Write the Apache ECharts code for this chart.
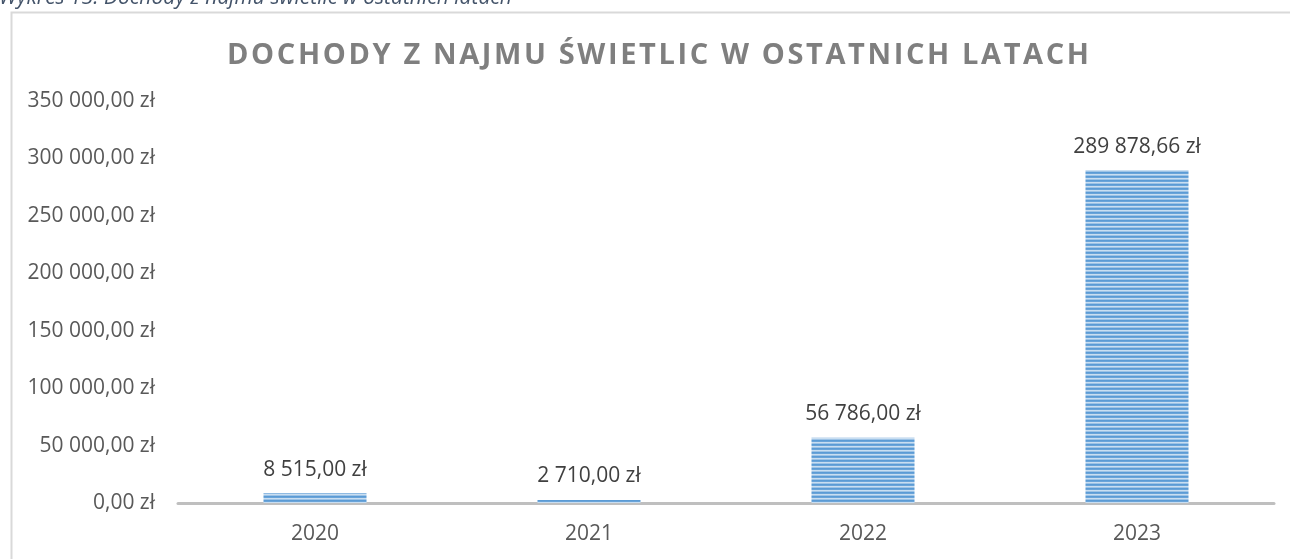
<!DOCTYPE html>
<html><head><meta charset="utf-8">
<script src="https://cdn.jsdelivr.net/npm/echarts@6/dist/echarts.min.js"></script>
<style>html,body{margin:0;padding:0;background:#fff;}#c{width:1290px;height:559px;}</style>
</head><body><div id="c"></div>
<script>
const caption = 'Wykres 13. Dochody z najmu świetlic w ostatnich latach';
const title = 'DOCHODY Z NAJMU ŚWIETLIC W OSTATNICH LATACH';
const categories = ['2020', '2021', '2022', '2023'];
const values = [8515.00, 2710.00, 56786.00, 289878.66];
const yTicks = [0, 50000, 100000, 150000, 200000, 250000, 300000, 350000];

function fmtPLN(v) {
  const parts = v.toFixed(2).split('.');
  const int = parts[0].replace(/\B(?=(\d{3})+(?!\d))/g, ' ');
  return int + ',' + parts[1] + ' zł';
}

// letter spacing for the title
const TITLE_WIDTH = 862;
const origFill = CanvasRenderingContext2D.prototype.fillText;
CanvasRenderingContext2D.prototype.fillText = function (t, x, y, w) {
  if (t === title && 'letterSpacing' in this) {
    const prev = this.letterSpacing;
    this.letterSpacing = '0px';
    const base = this.measureText(t).width;
    const sp = (TITLE_WIDTH - base) / (t.length - 1);
    this.letterSpacing = sp + 'px';
    const dx = (this.textAlign === 'center') ? sp / 2 : 0;
    origFill.call(this, t, x + dx, y);
    this.letterSpacing = prev;
    return;
  }
  return origFill.apply(this, arguments);
};

// striped pattern
const pc = document.createElement('canvas');
pc.width = 4; pc.height = 4;
const px = pc.getContext('2d');
const rows = ['#5b9bd5', '#6aa4d9', '#c9def1', '#9dc3e6'];
rows.forEach((c, i) => { px.fillStyle = c; px.fillRect(0, i, 4, 1); });

const FONT = '"Open Sans", "Liberation Sans", sans-serif';
const chart = echarts.init(document.getElementById('c'), null, { renderer: 'canvas' });
chart.setOption({
  backgroundColor: '#ffffff',
  animation: false,
  title: {
    text: title, left: 653, top: 51, textAlign: 'center', textVerticalAlign: 'middle',
    textStyle: { fontFamily: FONT, fontWeight: 'bold', fontSize: 29, color: '#7f7f7f' }
  },
  graphic: [
    { type: 'rect', left: 9, top: 10, shape: { x: 0, y: 0, width: 1300, height: 560 },
      style: { fill: 'none', stroke: '#d9d9d9', lineWidth: 2 }, z: -1 },
    { type: 'text', left: -1, top: -12,
      style: { text: caption, fontFamily: FONT, fontStyle: 'italic', fontSize: 21, fill: '#44546a' } }
  ],
  grid: { left: 178, right: 16, top: 101, bottom: 56, containLabel: false },
  xAxis: {
    type: 'category', data: categories,
    axisLine: { lineStyle: { color: '#bfbfbf', width: 3 } },
    axisTick: { show: false },
    axisLabel: { margin: 21, fontFamily: FONT, fontSize: 21, color: '#595959' }
  },
  yAxis: {
    type: 'value', min: yTicks[0], max: yTicks[yTicks.length - 1], interval: yTicks[1] - yTicks[0],
    axisLine: { show: false }, axisTick: { show: false }, splitLine: { show: false },
    axisLabel: { margin: 23, fontFamily: FONT, fontSize: 21, color: '#595959', formatter: v => fmtPLN(v) }
  },
  series: [{
    type: 'bar', data: values, barWidth: 103,
    itemStyle: { color: { image: pc, repeat: 'repeat' } },
    label: { show: true, position: 'top', distance: 13, fontFamily: FONT, fontSize: 21, color: '#404040',
      formatter: p => fmtPLN(p.value) }
  }]
});
</script></body></html>
